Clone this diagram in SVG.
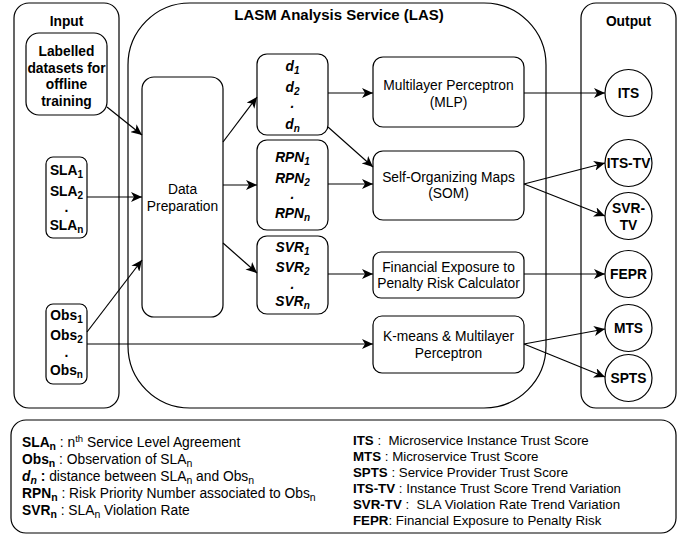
<svg xmlns="http://www.w3.org/2000/svg" width="686" height="537" viewBox="0 0 686 537">
<style>
.c{fill:#fff;stroke:#000;stroke-width:1.2}
.n{fill:#fff;stroke:#000;stroke-width:1.2}
.t{font-family:"Liberation Sans",Arial,sans-serif;font-size:13.8px;fill:#000;text-anchor:middle}
.b{font-weight:bold}
.bi{font-weight:bold;font-style:italic}
.l{font-family:"Liberation Sans",Arial,sans-serif;font-size:13.8px;fill:#000;white-space:pre}
.r{font-family:"Liberation Sans",Arial,sans-serif;font-size:13.3px;fill:#000;white-space:pre}
.e{fill:none;stroke:#000;stroke-width:1.2;marker-end:url(#a)}
</style>
<defs>
<marker id="a" markerUnits="userSpaceOnUse" markerWidth="12" markerHeight="10" refX="11" refY="5" orient="auto">
<path d="M0,0 L11,5 L0,10 L3,5 Z" fill="#000"/>
</marker>
</defs>
<g id="input">
<rect class="c" x="14" y="3" width="105" height="405" rx="15"/>
<text class="t b" x="66.5" y="26" font-size="14">Input</text>
</g>
<g id="las">
<rect class="c" x="128" y="3" width="418" height="405" rx="62"/>
<text class="t b" x="339" y="20" style="font-size:15px">LASM Analysis Service (LAS)</text>
</g>
<g id="output">
<rect class="c" x="581" y="3" width="95" height="405" rx="15"/>
<text class="t b" x="628.5" y="26">Output</text>
</g>
<g id="labelled">
<rect class="n" x="26" y="33" width="81" height="82" rx="13"/>
<text class="t b" x="66.5" y="56">Labelled</text>
<text class="t b" x="66.5" y="72.5">datasets for</text>
<text class="t b" x="66.5" y="89">offline</text>
<text class="t b" x="66.5" y="105.5">training</text>
</g>
<g id="sla">
<rect class="n" x="46" y="157" width="41" height="81" rx="7"/>
<text class="t b" x="66.5" y="175">SLA<tspan dy="3" font-size="10">1</tspan></text>
<text class="t b" x="66.5" y="196">SLA<tspan dy="3" font-size="10">2</tspan></text>
<text class="t b" x="66.5" y="212">.</text>
<text class="t b" x="66.5" y="230">SLA<tspan dy="3" font-size="10">n</tspan></text>
</g>
<g id="obs">
<rect class="n" x="46" y="304" width="41" height="80" rx="7"/>
<text class="t b" x="66.5" y="320">Obs<tspan dy="3" font-size="10">1</tspan></text>
<text class="t b" x="66.5" y="340">Obs<tspan dy="3" font-size="10">2</tspan></text>
<text class="t b" x="66.5" y="357">.</text>
<text class="t b" x="66.5" y="375">Obs<tspan dy="3" font-size="10">n</tspan></text>
</g>
<g id="dataprep">
<rect class="n" x="142" y="77" width="81" height="240" rx="12"/>
<text class="t" x="182.5" y="194">Data</text>
<text class="t" x="182.5" y="211">Preparation</text>
</g>
<g id="d">
<rect class="n" x="257" y="54" width="71" height="81" rx="10"/>
<text class="t bi" x="292.5" y="71">d<tspan dy="3" font-size="10">1</tspan></text>
<text class="t bi" x="292.5" y="92">d<tspan dy="3" font-size="10">2</tspan></text>
<text class="t bi" x="292.5" y="108">.</text>
<text class="t bi" x="292.5" y="129">d<tspan dy="3" font-size="10">n</tspan></text>
</g>
<g id="rpn">
<rect class="n" x="257" y="140" width="71" height="90" rx="10"/>
<text class="t bi" x="292.5" y="162">RPN<tspan dy="3" font-size="10">1</tspan></text>
<text class="t bi" x="292.5" y="183">RPN<tspan dy="3" font-size="10">2</tspan></text>
<text class="t bi" x="292.5" y="199">.</text>
<text class="t bi" x="292.5" y="218">RPN<tspan dy="3" font-size="10">n</tspan></text>
</g>
<g id="svr">
<rect class="n" x="257" y="236" width="71" height="78" rx="10"/>
<text class="t bi" x="292.5" y="252">SVR<tspan dy="3" font-size="10">1</tspan></text>
<text class="t bi" x="292.5" y="272">SVR<tspan dy="3" font-size="10">2</tspan></text>
<text class="t bi" x="292.5" y="289">.</text>
<text class="t bi" x="292.5" y="306">SVR<tspan dy="3" font-size="10">n</tspan></text>
</g>
<g id="mlp">
<rect class="n" x="373" y="57" width="151" height="70" rx="10"/>
<text class="t" x="448.5" y="90">Multilayer Perceptron</text>
<text class="t" x="448.5" y="107">(MLP)</text>
</g>
<g id="som">
<rect class="n" x="373" y="151" width="151" height="69" rx="10"/>
<text class="t" x="448.5" y="182">Self-Organizing Maps</text>
<text class="t" x="448.5" y="198">(SOM)</text>
</g>
<g id="fepcalc">
<rect class="n" x="373" y="252" width="151" height="46" rx="8"/>
<text class="t" x="448.5" y="272">Financial Exposure to</text>
<text class="t" x="448.5" y="288">Penalty Risk Calculator</text>
</g>
<g id="kmeans">
<rect class="n" x="373" y="316" width="151" height="57" rx="9"/>
<text class="t" x="448.5" y="341">K-means &amp; Multilayer</text>
<text class="t" x="448.5" y="358">Perceptron</text>
</g>
<g id="connectors">
<line class="e" x1="107" y1="107" x2="142" y2="135"/>
<line class="e" x1="87" y1="197" x2="142" y2="197"/>
<line class="e" x1="87" y1="332" x2="142" y2="260"/>
<line class="e" x1="87" y1="344" x2="373" y2="344"/>
<line class="e" x1="223" y1="142" x2="257" y2="97"/>
<line class="e" x1="223" y1="185" x2="257" y2="185"/>
<line class="e" x1="223" y1="243" x2="257" y2="273"/>
<line class="e" x1="328" y1="93" x2="373" y2="93"/>
<line class="e" x1="328" y1="127" x2="373" y2="167"/>
<line class="e" x1="328" y1="184" x2="373" y2="184"/>
<line class="e" x1="328" y1="274" x2="373" y2="274"/>
<line class="e" x1="524" y1="93" x2="605" y2="93"/>
<line class="e" x1="524" y1="184" x2="605" y2="163"/>
<line class="e" x1="524" y1="184" x2="605" y2="216"/>
<line class="e" x1="524" y1="274" x2="605" y2="274"/>
<line class="e" x1="524" y1="344" x2="605" y2="329"/>
<line class="e" x1="524" y1="344" x2="605" y2="377"/>
</g>
<g id="its">
<circle class="n" cx="628.5" cy="93" r="23.5"/>
<text class="t b" x="628.5" y="98">ITS</text>
</g>
<g id="itstv">
<circle class="n" cx="628.5" cy="163" r="23.5"/>
<text class="t b" x="628.5" y="168">ITS-TV</text>
</g>
<g id="svrtv">
<circle class="n" cx="628.5" cy="216" r="23.5"/>
<text class="t b" x="628.5" y="213">SVR-</text>
<text class="t b" x="628.5" y="230">TV</text>
</g>
<g id="fepr">
<circle class="n" cx="628.5" cy="274" r="23.5"/>
<text class="t b" x="628.5" y="279">FEPR</text>
</g>
<g id="mts">
<circle class="n" cx="628.5" cy="328" r="23.5"/>
<text class="t b" x="628.5" y="333">MTS</text>
</g>
<g id="spts">
<circle class="n" cx="628.5" cy="378" r="23.5"/>
<text class="t b" x="628.5" y="383">SPTS</text>
</g>
<g id="legend">
<rect class="c" x="11" y="420" width="665" height="113" rx="15"/>
<text class="l" x="22" y="447"><tspan font-weight="bold">SLA<tspan dy="3" font-size="10.5">n</tspan></tspan><tspan dy="-3"> : n</tspan><tspan dy="-5" font-size="9.5">th</tspan><tspan dy="5"> Service Level Agreement</tspan></text>
<text class="l" x="22" y="464"><tspan font-weight="bold">Obs<tspan dy="3" font-size="10.5">n</tspan></tspan><tspan dy="-3"> : Observation of SLA</tspan><tspan dy="3" font-size="10.5">n</tspan></text>
<text class="l" x="22" y="481"><tspan font-weight="bold" font-style="italic">d<tspan dy="3" font-size="10.5">n</tspan></tspan><tspan dy="-3" font-weight="bold"> :</tspan><tspan> distance between SLA</tspan><tspan dy="3" font-size="10.5">n</tspan><tspan dy="-3"> and Obs</tspan><tspan dy="3" font-size="10.5">n</tspan></text>
<text class="l" x="22" y="498"><tspan font-weight="bold">RPN<tspan dy="3" font-size="10.5">n</tspan></tspan><tspan dy="-3"> : Risk Priority Number associated to Obs</tspan><tspan dy="3" font-size="10.5">n</tspan></text>
<text class="l" x="22" y="515"><tspan font-weight="bold">SVR<tspan dy="3" font-size="10.5">n</tspan></tspan><tspan dy="-3"> : SLA</tspan><tspan dy="3" font-size="10.5">n</tspan><tspan dy="-3"> Violation Rate</tspan></text>
<text class="r" x="353" y="445"><tspan font-weight="bold">ITS</tspan> :  Microservice Instance Trust Score</text>
<text class="r" x="353" y="461"><tspan font-weight="bold">MTS</tspan> : Microservice Trust Score</text>
<text class="r" x="353" y="477"><tspan font-weight="bold">SPTS</tspan> : Service Provider Trust Score</text>
<text class="r" x="353" y="493"><tspan font-weight="bold">ITS-TV</tspan> : Instance Trust Score Trend Variation</text>
<text class="r" x="353" y="509"><tspan font-weight="bold">SVR-TV</tspan> :  SLA Violation Rate Trend Variation</text>
<text class="r" x="353" y="525"><tspan font-weight="bold">FEPR</tspan>: Financial Exposure to Penalty Risk</text>
</g>
</svg>
